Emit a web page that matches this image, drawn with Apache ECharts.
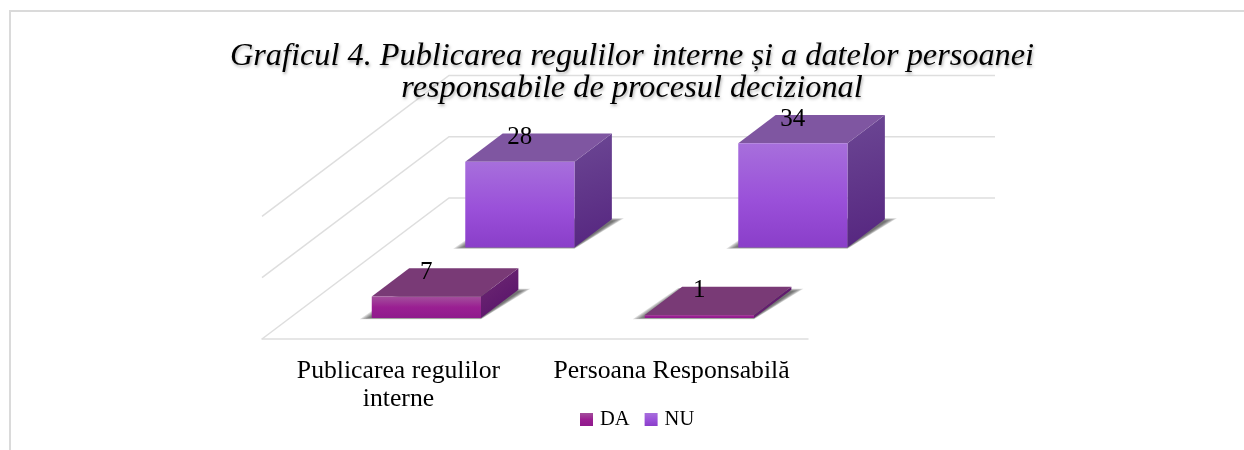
<!DOCTYPE html>
<html>
<head>
<meta charset="utf-8">
<style>html,body{margin:0;padding:0;background:#fff}#c{width:1244px;height:450px}</style>
<script src="https://cdn.jsdelivr.net/npm/echarts@6/dist/echarts.min.js"></script>
</head>
<body>
<div id="c"></div>
<script>
var titleText = 'Graficul 4. Publicarea regulilor interne și a datelor persoanei\nresponsabile de procesul decizional';
var categories = ['Publicarea regulilor\ninterne', 'Persoana Responsabilă'];
var seriesNames = ['DA', 'NU'];
var daValues = [7, 1];
var nuValues = [28, 34];
var gridTicks = [0, 20, 40];

var SERIF = '"Liberation Serif", serif';
var DX = 187, DY = 141;           // oblique projection of the floor depth
var LINE = '#DEDEDE';

function vGrad(stops) {
  return {type: 'linear', x: 0, y: 0, x2: 0, y2: 1,
    colorStops: stops.map(function (s) { return {offset: s[0], color: s[1]}; })};
}
function dGrad(a, b) {
  return {type: 'linear', x: 0, y: 0, x2: 1, y2: 1,
    colorStops: [{offset: 0, color: a}, {offset: 1, color: b}]};
}
var daFront = vGrad([[0, '#A34F9C'], [0.5, '#9A1F92'], [1, '#8F1A8C']]);
var nuFront = vGrad([[0, '#A76FDC'], [0.55, '#9A50D9'], [1, '#8A3EC9']]);
var palette = [
  {front: daFront, top: '#793A76', side: dGrad('#6F2A72', '#55106A')},
  {front: nuFront, top: '#7F56A1', side: dGrad('#6C4794', '#55257F')}
];

function shadowLayers(x0, x1, yb, ox, oy) {
  var layers = [];
  for (var k = 6; k >= 1; k--) {
    var e = k * 2;
    layers.push({type: 'polygon', z2: 0, silent: true,
      shape: {points: [
        [x0 - e, yb + 0.3 * k - 0.5], [x1, yb + 0.3 * k - 0.5],
        [x1 + ox + e, yb - oy + 2 - 0.5 * k], [x0 + ox - e / 3, yb - oy - 0.3 * k]]},
      style: {fill: 'rgba(50,50,50,0.17)'}});
  }
  return layers;
}

function renderBar(params, api) {
  var s = params.seriesIndex - 1;
  var p = palette[s];
  var base = api.coord([api.value(0), 0]);
  var top = api.coord([api.value(0), api.value(1)]);
  var w = api.size([1, 0])[0] * 0.4;
  var f = 0.149 + 0.5 * s, d = 0.2;
  var x0 = base[0] + f * DX - w / 2, x1 = x0 + w;
  var yb = base[1] - f * DY, h = base[1] - top[1], yt = yb - h;
  var ox = d * DX, oy = d * DY;
  return {
    type: 'group',
    children: shadowLayers(x0, x1, yb, ox, oy).concat([
      {type: 'polygon', z2: 1,
        shape: {points: [[x1, yt], [x1 + ox, yt - oy], [x1 + ox, yb - oy], [x1, yb]]},
        style: {fill: p.side}},
      {type: 'polygon', z2: 2,
        shape: {points: [[x0, yt], [x0 + ox, yt - oy], [x1 + ox, yt - oy], [x1, yt]]},
        style: {fill: p.top}},
      {type: 'rect', z2: 3,
        shape: {x: x0, y: yt, width: w, height: h},
        style: {fill: p.front}},
      {type: 'text', z2: 4,
        style: {text: String(api.value(1)), x: x0 + w / 2, y: yt - 24, align: 'center', verticalAlign: 'middle',
          fill: '#000', font: '25px ' + SERIF}}
    ])
  };
}

function renderGrid(params, api) {
  var y = api.coord([0, api.value(1)])[1];
  var x = params.coordSys.x, w = params.coordSys.width;
  return {type: 'polyline', silent: true,
    shape: {points: [[x, y], [x + DX, y - DY], [x + DX + w, y - DY]]},
    style: {stroke: LINE, lineWidth: 1.5, fill: 'none'}};
}

function rows(vals) {
  return vals.map(function (v, i) { return [i, v]; });
}

var chart = echarts.init(document.getElementById('c'), null, {renderer: 'canvas'});
chart.setOption({
  animation: false,
  backgroundColor: '#fff',
  title: {
    text: titleText, left: 627, top: 36, textAlign: 'center',
    textStyle: {fontFamily: SERIF, fontStyle: 'italic', fontWeight: 'normal', fontSize: 32.3, lineHeight: 32, color: '#000',
      textShadowColor: 'rgba(0,0,0,0.3)', textShadowBlur: 3, textShadowOffsetX: 1, textShadowOffsetY: 2}
  },
  legend: {
    data: seriesNames, left: 575, top: 404, itemWidth: 13, itemHeight: 13, itemGap: 15,
    icon: 'rect',
    textStyle: {fontFamily: SERIF, fontSize: 20.5, color: '#000', padding: [0, 0, 0, 2]}
  },
  grid: {left: 262, width: 546, top: 216.4, height: 122.6},
  xAxis: {
    type: 'category', data: categories,
    axisLine: {show: true, lineStyle: {color: LINE, width: 1.5}},
    axisTick: {show: false},
    axisLabel: {interval: 0, margin: 18, fontFamily: SERIF, fontSize: 25.7, lineHeight: 28, color: '#000'}
  },
  yAxis: {type: 'value', min: 0, max: 40, interval: 20, show: false},
  series: [
    {type: 'custom', name: 'grid', z: 1, clip: false, renderItem: renderGrid, encode: {y: 1},
      data: gridTicks.map(function (t) { return [0, t]; })},
    {type: 'custom', name: seriesNames[0], z: 3, clip: false, renderItem: renderBar, encode: {x: 0, y: 1},
      itemStyle: {color: daFront}, data: rows(daValues)},
    {type: 'custom', name: seriesNames[1], z: 2, clip: false, renderItem: renderBar, encode: {x: 0, y: 1},
      itemStyle: {color: nuFront}, data: rows(nuValues)}
  ],
  graphic: [{type: 'polyline', silent: true, z: 0,
    shape: {points: [[10, 450], [10, 11], [1244, 11]]},
    style: {stroke: '#DADADA', lineWidth: 2, fill: 'none'}}]
});
</script>
</body>
</html>
